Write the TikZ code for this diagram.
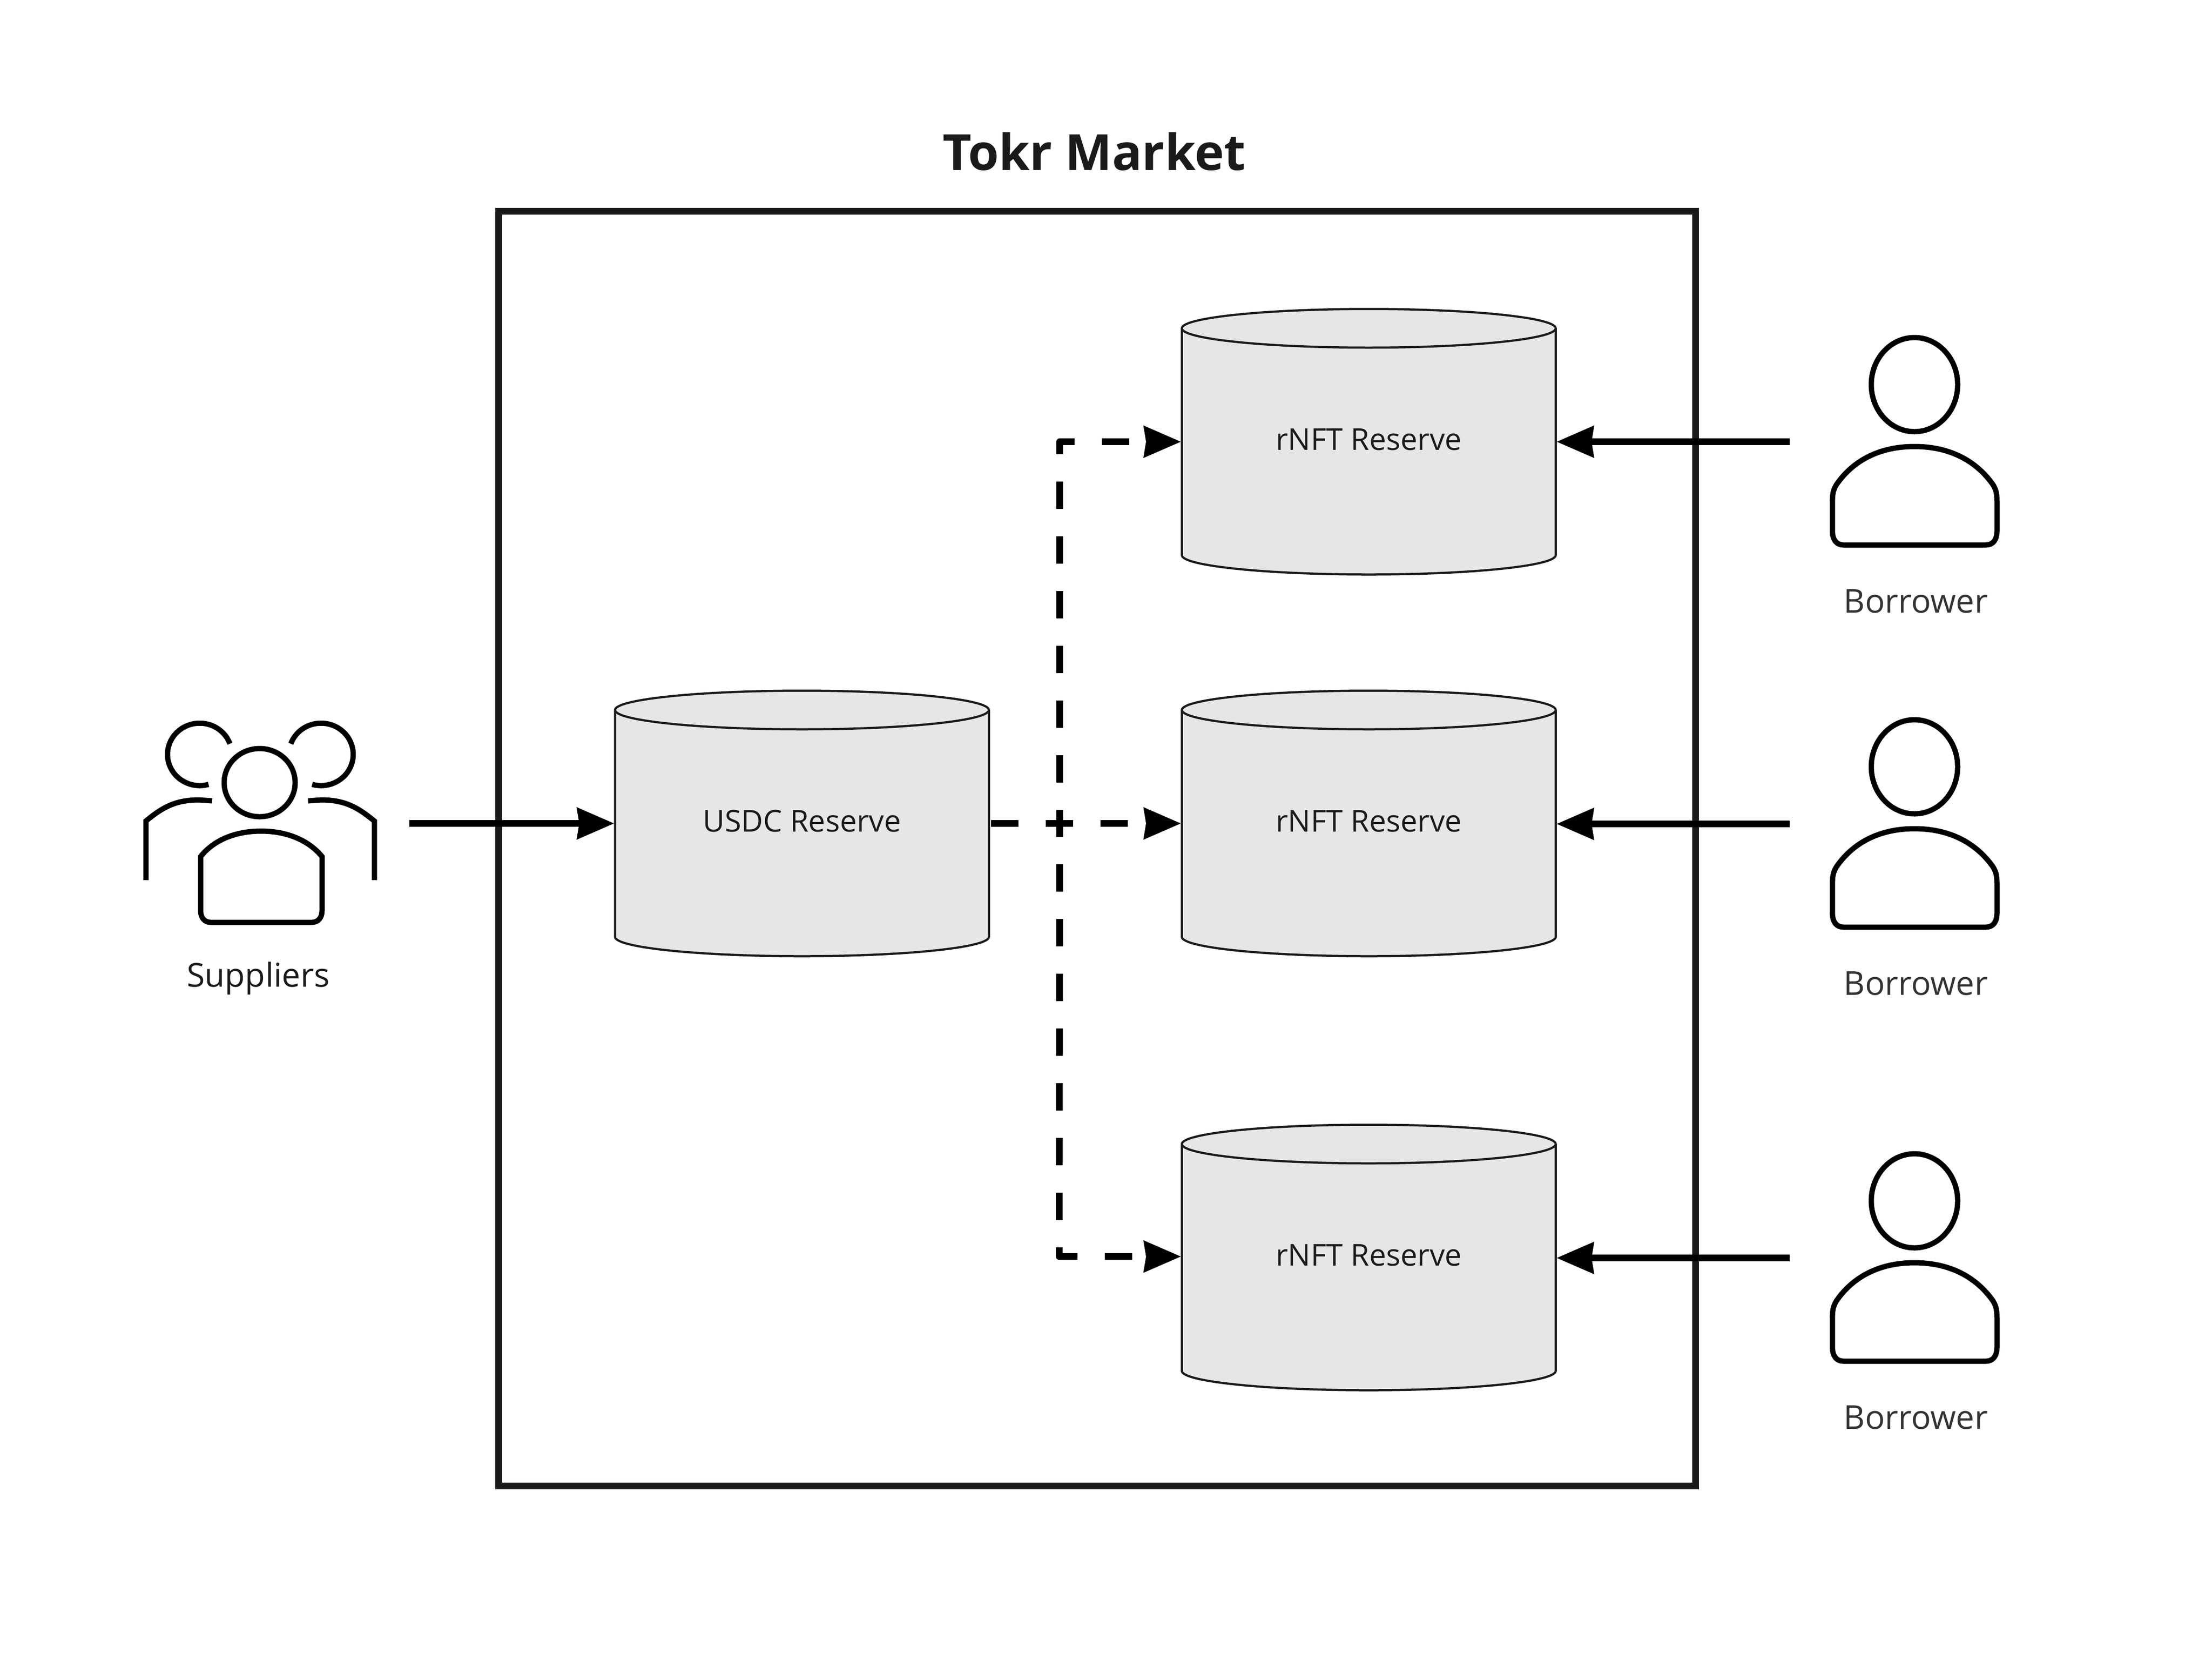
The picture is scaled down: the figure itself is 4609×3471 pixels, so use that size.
\documentclass[tikz,border=0pt]{standalone}
\usepackage{xcolor}
\usepackage{fontspec}
\setmainfont{Open Sans}
\usetikzlibrary{shapes.geometric, arrows.meta, positioning}
\definecolor{mkdark}{HTML}{1A1A1A}
\definecolor{mkfill}{HTML}{E6E6E6}
\definecolor{mktext}{HTML}{333333}

\begin{document}
\begin{tikzpicture}[
    x=0.1mm, y=0.1mm,
    reserve/.style={cylinder, shape border rotate=90, aspect=0.17, anchor=shape center, draw=mkdark, fill=mkfill, line width=0.45mm, minimum width=77.9mm, minimum height=55.3mm, outer sep=0.15mm, text width=45mm, align=flush center, text depth=6.3mm, font=\fontsize{17.85}{22}\selectfont, text=mkdark},
    marketbox/.style={rectangle, draw=mkdark, line width=1.35mm, minimum width=249.4mm, minimum height=265.5mm, outer sep=0pt},
    caption/.style={anchor=base, font=\fontsize{19.5}{23}\selectfont},
    icon/.style={line width=1.1mm, black},
    flow/.style={line width=1.4mm, black, line join=round, -{Stealth[length=7.7mm, width=6.4mm, inset=0.4mm]}},
    flowdash/.style={flow, dash pattern=on 5.7mm off 5.7mm, shorten <=0.3mm}
]
\useasboundingbox (0,0) rectangle (4609,-3471);

% Market frame
\node[marketbox] (market) at (2286,-1767.5) {};
\node[anchor=base, font=\fontsize{29.5}{33}\selectfont\bfseries, text=mkdark] (title) at (2280,-354) {Tokr Market};

% Reserves
\node[reserve] (usdc) at (1671,-1715) {USDC Reserve};
\node[reserve] (nft1) at (2852,-920) {rNFT Reserve};
\node[reserve] (nft2) at (2852,-1715) {rNFT Reserve};
\node[reserve] (nft3) at (2852,-2619) {rNFT Reserve};

% Suppliers icon
\draw[icon] (541,-1630) ellipse [x radius=74, y radius=71];
\draw[icon] (479,-1549) arc [start angle=20, end angle=286, x radius=67, y radius=65];
\draw[icon] (606,-1549) arc [start angle=160, end angle=-106, x radius=67, y radius=65];
\draw[icon] (304,-1833) -- (304,-1710) .. controls (338,-1682) and (365,-1666) .. (415,-1666) -- (442,-1668);
\draw[icon] (780,-1833) -- (780,-1710) .. controls (746,-1682) and (719,-1666) .. (669,-1666) -- (642,-1668);
\draw[icon] (418,-1784) .. controls (445,-1750) and (490,-1731) .. (544,-1731) .. controls (598,-1731) and (643,-1750) .. (671,-1784)
    -- (671,-1897) .. controls (671,-1912) and (662,-1921) .. (650,-1921) -- (439,-1921) .. controls (427,-1921) and (418,-1912) .. (418,-1897) -- cycle;
\node[caption, text=mkdark] (suppliers) at (538,-2055) {Suppliers};
\coordinate (supout) at (853,-1715);

% Borrower icons
\foreach \idx/\by in {1/0, 2/-796, 3/-1700} {
  \begin{scope}[shift={(0,\by)}]
    \draw[icon] (3989,-801) ellipse [x radius=90, y radius=98];
    \draw[icon] (3818,-1050) .. controls (3818,-1030) and (3819,-1022) .. (3826,-1010) .. controls (3860,-960) and (3915,-930) .. (3989,-930)
        .. controls (4063,-930) and (4118,-960) .. (4153,-1010) .. controls (4160,-1022) and (4161,-1030) .. (4161,-1050)
        -- (4161,-1105) .. controls (4161,-1125) and (4152,-1135) .. (4138,-1135) -- (3841,-1135) .. controls (3827,-1135) and (3818,-1125) .. (3818,-1105) -- cycle;
    \node[caption, text=mktext] (brw\idx) at (3992,-1276) {Borrower};
    \coordinate (brwout\idx) at (3729,-920);
  \end{scope}
}

% Flows
\coordinate (jct1) at (2208,-920);
\coordinate (jct3) at (2207,-2617);
\coordinate (jctm) at (2208,-1715);
\draw[flow] (supout) -- (supout -| usdc.west);
\draw[flowdash] (jctm -| usdc.east) -- (jctm) -- (jct1) -- (jct1 -| nft1.west);
\draw[flowdash] (jctm -| usdc.east) -- (jctm -| nft2.west);
\draw[flowdash] (jctm -| usdc.east) -- (jctm) -- (jct3) -- (jct3 -| nft3.west);
\foreach \idx in {1,2,3} {
  \draw[flow] (brwout\idx) -- (brwout\idx -| nft\idx.east);
}
\end{tikzpicture}
\end{document}
